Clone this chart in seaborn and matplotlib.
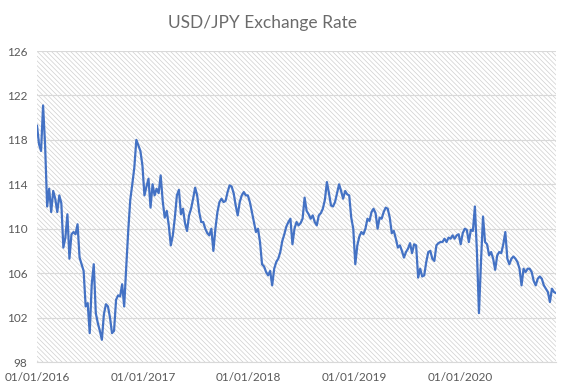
import pandas as pd
import seaborn as sns
import matplotlib.pyplot as plt

# weekly USD/JPY values
rate_2016 = [119.3, 117.6, 117.0, 121.1, 117.5, 112.0, 113.6, 111.5, 113.4, 112.7,
             111.5, 113.0, 112.3, 108.3, 109.2, 111.3, 107.3, 109.5, 109.7, 109.5,
             110.4, 107.4, 106.8, 106.2, 103.0, 103.3, 100.6, 105.0, 106.8, 102.4,
             101.5, 100.8, 100.0, 102.3, 103.2, 103.0, 102.0, 100.6, 100.8, 103.6,
             104.0, 103.9, 105.0, 103.0, 106.5, 109.8, 112.6, 114.0, 115.5, 118.0,
             117.5, 117.0]
rate_2017 = [115.7, 113.0, 113.8, 114.5, 111.9, 114.0, 113.0, 113.6, 113.2, 114.8,
             112.5, 111.0, 111.6, 110.3, 108.5, 109.4, 111.0, 113.0, 113.5, 111.3,
             111.8, 110.5, 109.8, 111.2, 111.8, 112.7, 113.7, 113.0, 111.5, 110.6,
             110.6, 110.0, 109.6, 109.4, 110.0, 108.0, 110.0, 111.5, 112.4, 112.7,
             112.4, 112.5, 113.3, 113.9, 113.8, 113.2, 112.1, 111.2, 112.4, 113.0,
             113.3, 113.0]
rate_2018 = [113.0, 112.4, 111.5, 110.6, 109.7, 110.0, 108.8, 106.8, 106.6, 106.1,
             105.8, 106.2, 104.9, 106.4, 107.0, 107.3, 107.9, 108.9, 109.5, 110.2,
             110.6, 110.9, 108.6, 110.0, 110.6, 110.3, 110.5, 110.9, 112.8, 111.6,
             111.3, 110.9, 111.2, 110.6, 110.3, 111.2, 111.4, 111.8, 112.6, 114.2,
             113.2, 112.1, 112.0, 112.4, 113.2, 114.0, 113.4, 112.7, 113.4, 113.1,
             113.0, 111.0]
rate_2019 = [110.0, 106.8, 108.5, 109.3, 109.7, 109.5, 110.0, 110.9, 110.7, 111.5,
             111.8, 111.4, 110.0, 111.0, 110.9, 111.5, 111.9, 111.8, 111.0, 109.6,
             109.8, 109.1, 108.3, 108.5, 108.0, 107.4, 107.9, 108.2, 108.7, 107.8,
             108.6, 108.5, 105.6, 106.4, 105.7, 105.8, 107.0, 107.9, 108.0, 107.3,
             107.1, 108.5, 108.7, 108.8, 108.8, 109.1, 108.8, 109.2, 109.1, 109.4,
             109.1, 109.4, 109.5]
rate_2020 = [108.6, 109.6, 110.0, 109.9, 108.8, 109.9, 109.8, 112.0, 107.9, 102.4,
             107.0, 111.1, 108.8, 108.6, 107.6, 107.9, 107.3, 106.3, 107.6, 107.9,
             107.8, 108.6, 109.7, 107.3, 106.8, 107.3, 107.5, 107.3, 107.0, 106.4,
             104.9, 106.4, 106.1, 106.4, 106.4, 106.1, 105.3, 104.9, 105.5, 105.7,
             105.5, 104.9, 104.6, 104.3, 103.4, 104.6, 104.3, 104.2]

rate = rate_2016 + rate_2017 + rate_2018 + rate_2019 + rate_2020
dates = pd.date_range('2016-01-01', periods=len(rate), freq='7D')
df = pd.DataFrame({'date': dates, 'rate': rate})

year_ticks = pd.to_datetime(['2016-01-01', '2017-01-01', '2018-01-01',
                             '2019-01-01', '2020-01-01'])
y_ticks = [98, 102, 106, 110, 114, 118, 122, 126]

sns.set_style('white')
plt.rcParams['font.family'] = ['Lato', 'DejaVu Sans']
plt.rcParams['hatch.linewidth'] = 0.5

fig = plt.figure(figsize=(5.68, 3.92), dpi=100)
ax = fig.add_axes([37 / 568, 30 / 392, 519 / 568, 311 / 392])

# hatched plot area like the Excel pattern fill
ax.patch.set_facecolor('white')
ax.patch.set_edgecolor('#cfcfcf')
ax.patch.set_linewidth(0)
ax.patch.set_hatch('\\' * 7)

sns.lineplot(data=df, x='date', y='rate', ax=ax, color='#4472C4', linewidth=1.6)

ax.set_ylim(98, 126)
ax.set_xlim(dates[0], dates[-1])
ax.set_yticks(y_ticks)
ax.set_xticks(year_ticks)
ax.set_xticklabels([d.strftime('%d/%m/%Y') for d in year_ticks])
ax.set_xlabel('')
ax.set_ylabel('')

ax.grid(axis='y', color='#d9d9d9', linewidth=0.8)
ax.set_axisbelow(True)
for side in ['top', 'right', 'left']:
    ax.spines[side].set_visible(False)
ax.spines['bottom'].set_color('#d9d9d9')
ax.spines['bottom'].set_linewidth(0.8)

ax.tick_params(axis='y', length=0, pad=7, labelsize=8.5, labelcolor='#595959')
ax.tick_params(axis='x', length=4, width=0.8, color='#d9d9d9', direction='out',
               pad=3, labelsize=8.5, labelcolor='#595959')

fig.text(262 / 568, 1 - 23 / 392, 'USD/JPY Exchange Rate', ha='center', va='center',
         fontsize=12.5, color='#6b6b6b')

fig.savefig('out.png', dpi=100)
